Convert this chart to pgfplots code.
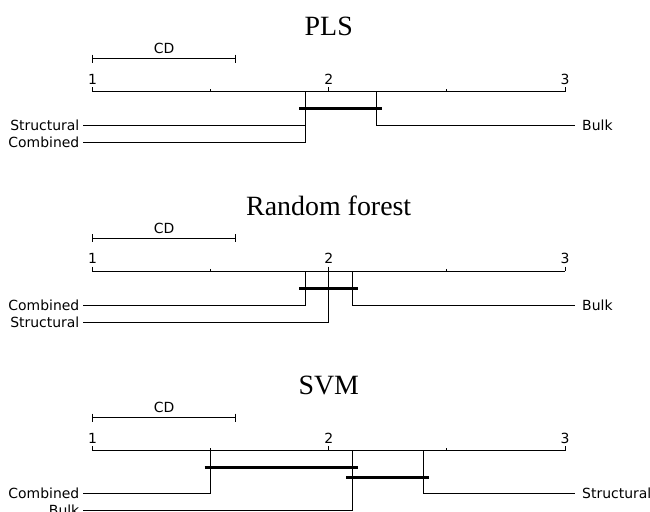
\documentclass[border=0pt]{standalone}
\usepackage{pgfplots}
\pgfplotsset{compat=1.18}
\usepackage{fontspec}
\setmainfont{DejaVu Sans}
\newfontfamily\titlefont{Liberation Serif}
\pgfplotsset{
  cdpanel/.style={
    width=650bp, height=179.5bp, scale only axis,
    xmin=0.6085, xmax=3.3598, ymin=-91.7, ymax=87.8, y dir=reverse,
    hide axis, clip=false, anchor=north west,
  },
}
\tikzset{
  thin line/.style={black, line width=0.9bp},
  bold bar/.style={black, line width=3.4bp},
  lab/.style={font=\fontsize{14}{16}\selectfont, inner sep=0pt},
  ttl/.style={font=\titlefont\fontsize{28}{32}\selectfont, inner sep=0pt},
}
\begin{document}
\begin{tikzpicture}
% ---------------- PLS ----------------
\begin{axis}[cdpanel, at={(0bp,0bp)}]
\node[ttl] at (axis cs:2,-65) {PLS};
\node[lab] at (axis cs:1.3035,-43) {CD};
\addplot[thin line, no marks] coordinates {(1,-33) (1.607,-33)};
\addplot[thin line, no marks] coordinates {(1,-37) (1,-29)};
\addplot[thin line, no marks] coordinates {(1.607,-37) (1.607,-29)};
\node[lab] at (axis cs:1,-12.5) {1};
\node[lab] at (axis cs:2,-12.5) {2};
\node[lab] at (axis cs:3,-12.5) {3};
\addplot[thin line, no marks] coordinates {(1,0) (3,0)};
\addplot[thin line, no marks] coordinates {(1,-4.5) (1,0)};
\addplot[thin line, no marks] coordinates {(2,-4.5) (2,0)};
\addplot[thin line, no marks] coordinates {(3,-4.5) (3,0)};
\addplot[thin line, no marks] coordinates {(1.5,-2.4) (1.5,0)};
\addplot[thin line, no marks] coordinates {(2.5,-2.4) (2.5,0)};
\addplot[bold bar, no marks] coordinates {(1.875,17) (2.225,17)};
% Structural 1.9, Combined 1.9, Bulk 2.2
\addplot[thin line, no marks] coordinates {(1.9,0) (1.9,34) (0.96,34)};
\addplot[thin line, no marks] coordinates {(1.9,0) (1.9,50.6) (0.96,50.6)};
\addplot[thin line, no marks] coordinates {(2.2,0) (2.2,34) (3.042,34)};
\node[lab, anchor=east] at (axis cs:0.945,34) {Structural};
\node[lab, anchor=east] at (axis cs:0.945,50.6) {Combined};
\node[lab, anchor=west] at (axis cs:3.072,34) {Bulk};
\end{axis}
% ---------------- Random forest ----------------
\begin{axis}[cdpanel, at={(0bp,-179.5bp)}]
\node[ttl] at (axis cs:2,-65) {Random forest};
\node[lab] at (axis cs:1.3035,-43) {CD};
\addplot[thin line, no marks] coordinates {(1,-33) (1.607,-33)};
\addplot[thin line, no marks] coordinates {(1,-37) (1,-29)};
\addplot[thin line, no marks] coordinates {(1.607,-37) (1.607,-29)};
\node[lab] at (axis cs:1,-12.5) {1};
\node[lab] at (axis cs:2,-12.5) {2};
\node[lab] at (axis cs:3,-12.5) {3};
\addplot[thin line, no marks] coordinates {(1,0) (3,0)};
\addplot[thin line, no marks] coordinates {(1,-4.5) (1,0)};
\addplot[thin line, no marks] coordinates {(2,-4.5) (2,0)};
\addplot[thin line, no marks] coordinates {(3,-4.5) (3,0)};
\addplot[thin line, no marks] coordinates {(1.5,-2.4) (1.5,0)};
\addplot[thin line, no marks] coordinates {(2.5,-2.4) (2.5,0)};
\addplot[bold bar, no marks] coordinates {(1.875,17) (2.125,17)};
% Combined 1.9, Structural 2.0, Bulk 2.1
\addplot[thin line, no marks] coordinates {(1.9,0) (1.9,34.5) (0.96,34.5)};
\addplot[thin line, no marks] coordinates {(2.0,0) (2.0,51) (0.96,51)};
\addplot[thin line, no marks] coordinates {(2.1,0) (2.1,34.5) (3.042,34.5)};
\node[lab, anchor=east] at (axis cs:0.945,34.5) {Combined};
\node[lab, anchor=east] at (axis cs:0.945,51) {Structural};
\node[lab, anchor=west] at (axis cs:3.072,34.5) {Bulk};
\end{axis}
% ---------------- SVM ----------------
\begin{axis}[cdpanel, at={(0bp,-359bp)}]
\node[ttl] at (axis cs:2,-65) {SVM};
\node[lab] at (axis cs:1.3035,-43) {CD};
\addplot[thin line, no marks] coordinates {(1,-33) (1.607,-33)};
\addplot[thin line, no marks] coordinates {(1,-37) (1,-29)};
\addplot[thin line, no marks] coordinates {(1.607,-37) (1.607,-29)};
\node[lab] at (axis cs:1,-12.5) {1};
\node[lab] at (axis cs:2,-12.5) {2};
\node[lab] at (axis cs:3,-12.5) {3};
\addplot[thin line, no marks] coordinates {(1,0) (3,0)};
\addplot[thin line, no marks] coordinates {(1,-4.5) (1,0)};
\addplot[thin line, no marks] coordinates {(2,-4.5) (2,0)};
\addplot[thin line, no marks] coordinates {(3,-4.5) (3,0)};
\addplot[thin line, no marks] coordinates {(1.5,-2.4) (1.5,0)};
\addplot[thin line, no marks] coordinates {(2.5,-2.4) (2.5,0)};
\addplot[bold bar, no marks] coordinates {(1.475,17) (2.125,17)};
\addplot[bold bar, no marks] coordinates {(2.075,27) (2.425,27)};
% Combined 1.5, Bulk 2.1, Structural 2.4
\addplot[thin line, no marks] coordinates {(1.5,0) (1.5,43) (0.96,43)};
\addplot[thin line, no marks] coordinates {(2.1,0) (2.1,60) (0.96,60)};
\addplot[thin line, no marks] coordinates {(2.4,0) (2.4,43) (3.042,43)};
\node[lab, anchor=east] at (axis cs:0.945,43) {Combined};
\node[lab, anchor=east] at (axis cs:0.945,60) {Bulk};
\node[lab, anchor=west] at (axis cs:3.072,43) {Structural};
\end{axis}
\pgfresetboundingbox
\path (0bp,0bp) rectangle (650bp,-512bp);
\end{tikzpicture}
\end{document}
